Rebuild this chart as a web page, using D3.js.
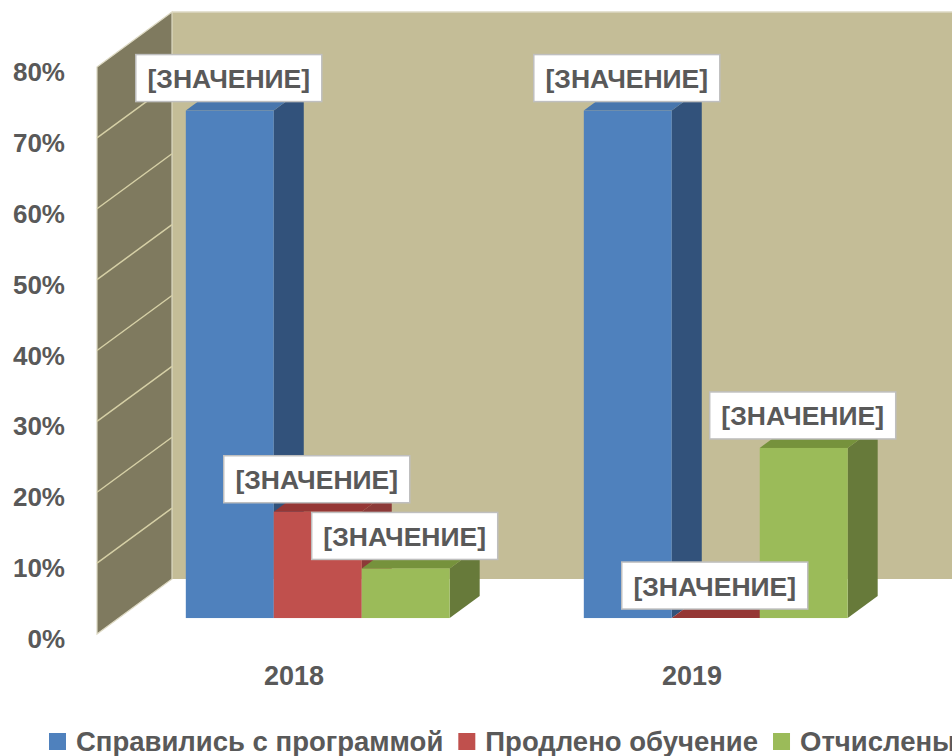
<!DOCTYPE html>
<html>
<head>
<meta charset="utf-8">
<script src="https://cdn.jsdelivr.net/npm/d3@7"></script>
<style>
  html, body { margin: 0; padding: 0; background: #ffffff; }
  svg { display: block; }
  text { font-family: "Liberation Sans", Arial, sans-serif; font-weight: bold; fill: #595959; }
</style>
</head>
<body>
<svg id="chart" width="952" height="756"></svg>
<script>
// ---- data ----
const categories = ["2018", "2019"];
const seriesNames = ["Справились с программой", "Продлено обучение", "Отчислены"];
const completedValues = [0.716, 0.716];
const extendedValues = [0.15, 0.00];
const expelledValues = [0.07, 0.24];
const yTickValues = [0, 0.1, 0.2, 0.3, 0.4, 0.5, 0.6, 0.7, 0.8];
const dataLabelText = "[ЗНАЧЕНИЕ]";

const seriesValues = [completedValues, extendedValues, expelledValues];
const colors = [
  { front: "#4f81bd", top: "#4876ad", side: "#32527b" },
  { front: "#c0504d", top: "#953735", side: "#8c3a38" },
  { front: "#9bbb59", top: "#76923c", side: "#677a3a" }
];

const svg = d3.select("#chart");

// ---- scales & projection ----
const DX = 75, DY = 55;               // full wall depth offset
const zFront = 0.29, zDepth = 0.4;    // bar depth placement
const y = d3.scaleLinear().domain([0, 0.8]).range([634, 67]);
const x = d3.scaleBand().domain(categories).range([97, 893]);
const group = d3.scaleBand().domain(categories).range([97, 893])
  .paddingInner(0.337).paddingOuter(0.1685);
const inner = d3.scaleBand().domain(seriesNames).range([0, group.bandwidth()]);

function P(px, v, z) { return [px + DX * z, y(v) - DY * z]; }
const line = d3.line();

const x0 = x.range()[0], x1 = x.range()[1];

// ---- walls ----
svg.append("path")
  .attr("d", line([P(x0, 0.8, 1), P(x1 + 40, 0.8, 1), P(x1 + 40, 0, 1), P(x0, 0, 1)]) + "Z")
  .attr("fill", "#c4bd97");
svg.append("path")
  .attr("d", line([P(x0, 0.8, 1), P(x1 + 40, 0.8, 1)]))
  .attr("stroke", "#ddd9c3").attr("stroke-width", 1.5).attr("fill", "none");

svg.append("path")
  .attr("d", line([P(x0, 0.8, 0), P(x0, 0.8, 1), P(x0, 0, 1), P(x0, 0, 0)]) + "Z")
  .attr("fill", "#7f7a5f")
  .attr("stroke", "#ddd9c3").attr("stroke-width", 1.2);

svg.append("g").selectAll("path")
  .data(yTickValues.filter(v => v > 0 && v < 0.8))
  .join("path")
  .attr("d", v => line([P(x0, v, 0), P(x0, v, 1)]))
  .attr("stroke", "#d6d0a6").attr("stroke-width", 1.5).attr("fill", "none");

// ---- y axis labels ----
svg.append("g").selectAll("text")
  .data(yTickValues)
  .join("text")
  .attr("x", 65)
  .attr("y", v => y(v) + 14)
  .attr("text-anchor", "end")
  .attr("font-size", 26)
  .text(d3.format(".0%"));

// ---- category labels ----
svg.append("g").selectAll("text")
  .data(categories)
  .join("text")
  .attr("x", c => x(c) + x.bandwidth() / 2 - 2)
  .attr("y", 685)
  .attr("text-anchor", "middle")
  .attr("font-size", 27)
  .text(c => c);

// ---- bars ----
const bars = [];
categories.forEach((c, ci) => {
  seriesNames.forEach((s, si) => {
    bars.push({ c, s, si, v: seriesValues[si][ci],
      left: group(c) + inner(s), right: group(c) + inner(s) + inner.bandwidth() });
  });
});

const barG = svg.append("g");
bars.forEach(b => {
  const zb = zFront + zDepth;
  const g = barG.append("g");
  g.append("path")
    .attr("d", line([P(b.right, 0, zFront), P(b.right, 0, zb), P(b.right, b.v, zb), P(b.right, b.v, zFront)]) + "Z")
    .attr("fill", colors[b.si].side);
  g.append("path")
    .attr("d", line([P(b.left, b.v, zFront), P(b.right, b.v, zFront), P(b.right, b.v, zb), P(b.left, b.v, zb)]) + "Z")
    .attr("fill", colors[b.si].top);
  const f0 = P(b.left, b.v, zFront), f1 = P(b.right, 0, zFront);
  g.append("rect")
    .attr("x", f0[0]).attr("y", f0[1])
    .attr("width", f1[0] - f0[0]).attr("height", Math.max(0, f1[1] - f0[1]))
    .attr("fill", colors[b.si].front);
});

// ---- data labels ----
const lblG = svg.append("g");
bars.forEach(b => {
  const top = P(b.left, b.v, zFront);
  const cx = (P(b.left, 0, zFront)[0] + P(b.right, 0, zFront)[0]) / 2 - 1;
  const bw = 186, bh = 47;
  const by = top[1] - 9 - bh;
  lblG.append("rect")
    .attr("x", cx - bw / 2).attr("y", by)
    .attr("width", bw).attr("height", bh)
    .attr("fill", "#ffffff").attr("stroke", "#bfbfbf").attr("stroke-width", 1.5);
  lblG.append("text")
    .attr("x", cx).attr("y", by + bh / 2 + 10)
    .attr("text-anchor", "middle")
    .attr("font-size", 26.5)
    .text(dataLabelText);
});

// ---- legend ----
const legend = svg.append("g");
let lx = 49;
seriesNames.forEach((s, i) => {
  legend.append("rect")
    .attr("x", lx).attr("y", 733).attr("width", 17).attr("height", 17)
    .attr("fill", colors[i].front);
  const t = legend.append("text")
    .attr("x", lx + 27).attr("y", 751)
    .attr("font-size", 27.5)
    .text(s);
  const w = t.node().getComputedTextLength();
  lx = lx + 27 + w + 15;
});
</script>
</body>
</html>
